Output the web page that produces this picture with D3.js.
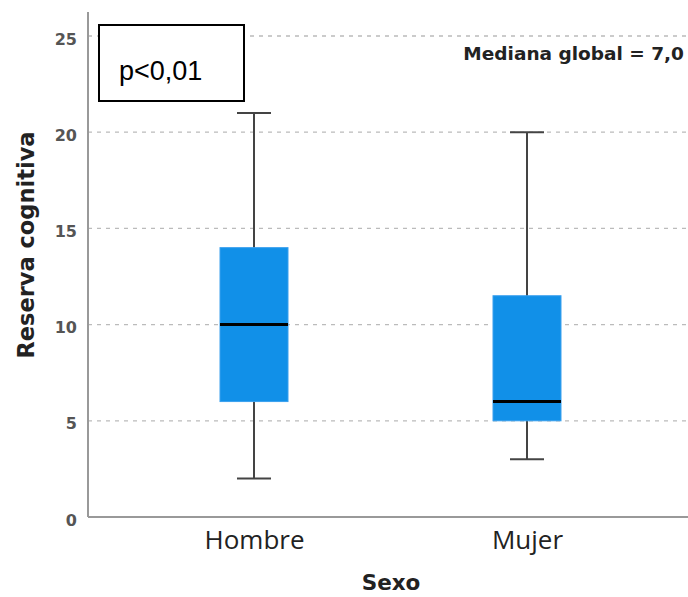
<!DOCTYPE html>
<html><head><meta charset="utf-8">
<script src="https://cdn.jsdelivr.net/npm/d3@7"></script>
<style>body{margin:0;background:#fff}</style>
</head><body><svg id="c" width="688" height="597"></svg>
<script>
const categories = ["Hombre", "Mujer"];
const mins = [2, 3];
const q1s = [6, 5];
const medians = [10, 6];
const q3s = [14, 11.5];
const maxs = [21, 20];
const yTicks = [0, 5, 10, 15, 20, 25];
const yTitle = "Reserva cognitiva";
const xTitle = "Sexo";
const annot = "Mediana global = 7,0";
const pText = "p<0,01";

const svg = d3.select("#c");
const axisX = 88, plotTop = 12, plotRight = 688;
const y = d3.scaleLinear().domain([0, 25]).range([517, 36]);
const x = d3.scalePoint().domain(categories).range([117.5, 663.5]).padding(0.5);
const boxW = 68, capW = 34;

// gridlines
svg.append("g").selectAll("line").data(yTicks.filter(d => d > 0)).join("line")
  .attr("x1", axisX).attr("x2", plotRight).attr("y1", d => y(d)).attr("y2", d => y(d))
  .attr("stroke", "#bbb").attr("stroke-width", 1.3).attr("stroke-dasharray", "4,5");

// y axis
const ya = d3.axisLeft(y).tickValues(yTicks).tickSize(0).tickPadding(11);
const gy = svg.append("g").attr("transform", `translate(${axisX},0)`).call(ya);
gy.select(".domain").remove();
gy.selectAll("text").attr("font-family", "DejaVu Sans").attr("font-size", 16).attr("font-weight", "bold").attr("fill", "#555").attr("dy", "0.5em");
svg.append("line").attr("x1", axisX).attr("x2", axisX).attr("y1", plotTop).attr("y2", y(0))
  .attr("stroke", "#999").attr("stroke-width", 2);
// x axis
const xa = d3.axisBottom(x).tickSize(0).tickPadding(13.5);
const gx = svg.append("g").attr("transform", `translate(0,${y(0)})`).call(xa);
gx.select(".domain").remove();
gx.selectAll("text").attr("font-family", "Open Sans").attr("font-size", 26).attr("fill", "#222");
svg.append("line").attr("x1", axisX).attr("x2", plotRight).attr("y1", y(0)).attr("y2", y(0))
  .attr("stroke", "#999").attr("stroke-width", 2);

// boxes
const data = categories.map((c, i) => ({c, min: mins[i], q1: q1s[i], med: medians[i], q3: q3s[i], max: maxs[i]}));
const g = svg.append("g").selectAll("g").data(data).join("g");
g.append("line").attr("x1", d => x(d.c)).attr("x2", d => x(d.c)).attr("y1", d => y(d.max)).attr("y2", d => y(d.min))
  .attr("stroke", "#444").attr("stroke-width", 2);
g.append("line").attr("x1", d => x(d.c) - capW/2).attr("x2", d => x(d.c) + capW/2).attr("y1", d => y(d.max)).attr("y2", d => y(d.max))
  .attr("stroke", "#444").attr("stroke-width", 2);
g.append("line").attr("x1", d => x(d.c) - capW/2).attr("x2", d => x(d.c) + capW/2).attr("y1", d => y(d.min)).attr("y2", d => y(d.min))
  .attr("stroke", "#444").attr("stroke-width", 2);
g.append("rect").attr("x", d => x(d.c) - boxW/2).attr("width", boxW)
  .attr("y", d => y(d.q3)).attr("height", d => y(d.q1) - y(d.q3))
  .attr("fill", "#1190e8").attr("stroke", "#3aa0ee").attr("stroke-width", 1);
g.append("line").attr("x1", d => x(d.c) - boxW/2).attr("x2", d => x(d.c) + boxW/2).attr("y1", d => y(d.med)).attr("y2", d => y(d.med))
  .attr("stroke", "#000").attr("stroke-width", 3);

// titles
svg.append("text").attr("transform", "translate(34,245) rotate(-90)").attr("text-anchor", "middle")
  .attr("font-family", "DejaVu Sans").attr("font-weight", "bold").attr("font-size", 22.5).attr("fill", "#222").text(yTitle);
svg.append("text").attr("x", 391).attr("y", 590).attr("text-anchor", "middle")
  .attr("font-family", "DejaVu Sans").attr("font-weight", "bold").attr("font-size", 21.5).attr("fill", "#222").text(xTitle);
svg.append("text").attr("x", 684).attr("y", 60).attr("text-anchor", "end")
  .attr("font-family", "DejaVu Sans").attr("font-weight", "bold").attr("font-size", 18.5).attr("fill", "#222").text(annot);

// p box
svg.append("rect").attr("x", 99).attr("y", 25).attr("width", 145).attr("height", 76)
  .attr("fill", "#fff").attr("stroke", "#000").attr("stroke-width", 2);
svg.append("text").attr("x", 119).attr("y", 80).attr("font-family", "Liberation Sans").attr("font-size", 27).attr("fill", "#000").text(pText);
</script></body></html>
